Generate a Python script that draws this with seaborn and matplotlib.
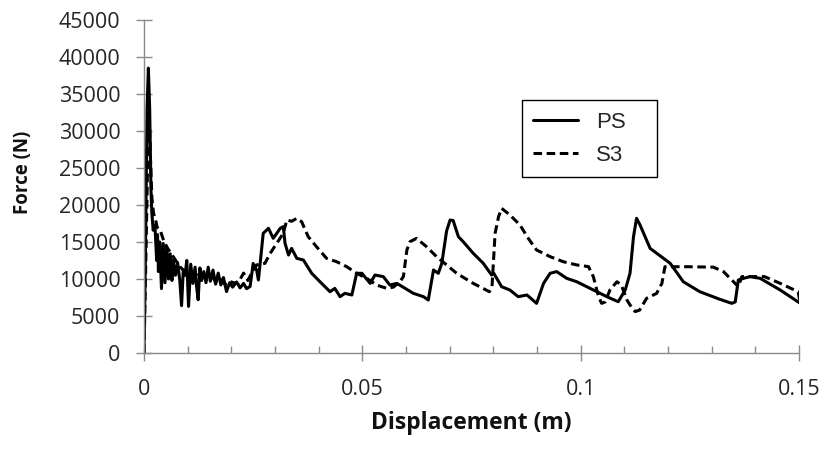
import matplotlib
matplotlib.use("Agg")
import matplotlib.pyplot as plt
import seaborn as sns
import pandas as pd

# Force-displacement curves
ps_x = [0.0, 0.0003, 0.0007, 0.0010, 0.0013, 0.0016, 0.0018, 0.0021, 0.0025, 0.0029,
        0.0031, 0.0033, 0.0036, 0.0040, 0.0044, 0.0048, 0.0052, 0.0056, 0.0060, 0.0064,
        0.0067, 0.0072, 0.0077, 0.0082, 0.0086, 0.0090, 0.0094, 0.0098, 0.0102, 0.0107,
        0.0112, 0.0117, 0.0120, 0.0124, 0.0128, 0.0132, 0.0137, 0.0142, 0.0147, 0.0152,
        0.0158, 0.0164, 0.0170, 0.0176, 0.0182, 0.0189, 0.0196, 0.0203, 0.0212, 0.0220,
        0.0228, 0.0235, 0.0243, 0.0250, 0.0258, 0.0262, 0.0266, 0.0273, 0.0285, 0.0296,
        0.0312, 0.0319, 0.0323, 0.0331, 0.0338, 0.0350, 0.0365, 0.0384, 0.0403, 0.0426,
        0.0437, 0.0449, 0.0460, 0.0476, 0.0487, 0.0499, 0.0518, 0.0529, 0.0548, 0.0563,
        0.0579, 0.0598, 0.0617, 0.0640, 0.0651, 0.0663, 0.0674, 0.0682, 0.0693, 0.0701,
        0.0708, 0.0720, 0.0731, 0.0754, 0.0777, 0.0788, 0.0796, 0.0801, 0.0819, 0.0838,
        0.0857, 0.0877, 0.0899, 0.0915, 0.0930, 0.0945, 0.0968, 0.0991, 0.1014, 0.1037,
        0.1060, 0.1086, 0.1102, 0.1113, 0.1121, 0.1128, 0.1136, 0.1159, 0.1205, 0.1235,
        0.1273, 0.1319, 0.1346, 0.1354, 0.1361, 0.1373, 0.1388, 0.1411, 0.1457, 0.1501]
ps_force = [0, 12000, 33000, 38500, 33000, 22000, 18900, 16600, 17300, 12500,
            16000, 11000, 15000, 8700, 14800, 9500, 14300, 10000, 13400, 9800,
            12600, 10500, 12200, 9800, 6400, 11200, 10500, 12500, 6300, 12000,
            9400, 11600, 9200, 7200, 11500, 9800, 11000, 9500, 11600, 9700,
            11200, 9300, 10800, 9200, 10200, 8300, 9500, 8900, 9600, 8800,
            9400, 8700, 9000, 12100, 11200, 9860, 12100, 16170, 16850, 15500,
            16850, 17070, 14820, 13240, 14140, 12790, 12570, 10770, 9630, 8280,
            8730, 7610, 8060, 7840, 10770, 10770, 9410, 10540, 10320, 9180,
            9410, 8730, 8060, 7610, 7160, 11220, 10770, 12120, 16500, 17970,
            17900, 15720, 15040, 13470, 12120, 11220, 10540, 10770, 8960, 8510,
            7610, 7840, 6710, 9410, 10770, 11000, 10090, 9630, 8960, 8280,
            7610, 6930, 8510, 10770, 15720, 18200, 17300, 14140, 12120, 9630,
            8280, 7250, 6710, 6900, 9860, 10090, 10320, 10090, 8510, 6790]

s3_x = [0.0, 0.0005, 0.0009, 0.0012, 0.0015, 0.0018, 0.0022, 0.0025, 0.0030, 0.0037,
        0.0045, 0.0052, 0.0060, 0.0067, 0.0075, 0.0082, 0.0092, 0.0105, 0.0115, 0.0125,
        0.0135, 0.0145, 0.0155, 0.0165, 0.0175, 0.0185, 0.0195, 0.0205, 0.0215, 0.0228,
        0.0238, 0.0248, 0.0258, 0.0277, 0.0289, 0.0304, 0.0319, 0.0327, 0.0338, 0.0350,
        0.0361, 0.0376, 0.0395, 0.0418, 0.0441, 0.0464, 0.0487, 0.0510, 0.0533, 0.0556,
        0.0571, 0.0586, 0.0594, 0.0602, 0.0609, 0.0624, 0.0647, 0.0670, 0.0693, 0.0716,
        0.0754, 0.0791, 0.0797, 0.0804, 0.0812, 0.0819, 0.0838, 0.0861, 0.0880, 0.0899,
        0.0930, 0.0960, 0.0991, 0.1018, 0.1029, 0.1041, 0.1048, 0.1056, 0.1067, 0.1083,
        0.1093, 0.1106, 0.1118, 0.1125, 0.1135, 0.1151, 0.1174, 0.1186, 0.1193, 0.1243,
        0.1304, 0.1327, 0.1350, 0.1361, 0.1369, 0.1421, 0.1457, 0.1498, 0.1502]
s3_force = [0, 15000, 28000, 32000, 26000, 21000, 18800, 18400, 17000, 16600,
            15200, 14360, 13600, 13010, 12300, 11660, 11100, 10770, 10900, 10300,
            10600, 10000, 10400, 9600, 10000, 9300, 9700, 9500, 9400, 10800,
            9800, 11000, 11900, 12120, 13470, 14820, 16170, 17970, 17800, 18200,
            17740, 15720, 14370, 12790, 12340, 11670, 10770, 10090, 9180, 8730,
            8900, 9630, 10320, 13920, 15040, 15490, 14370, 13020, 11900, 10770,
            9410, 8280, 9000, 16170, 18420, 19550, 18650, 17300, 15490, 13920,
            13020, 12340, 11900, 11670, 10320, 7610, 6710, 6900, 8510, 9630,
            9200, 7160, 6030, 5600, 5800, 7390, 8060, 9410, 11660, 11660,
            11600, 11000, 9630, 8960, 10320, 10320, 9410, 8280, 7000]

series_names = ["PS", "S3"]
y_ticks = list(range(0, 45001, 5000))
x_ticks = [0, 0.05, 0.1, 0.15]
x_tick_labels = ["0", "0.05", "0.1", "0.15"]
x_minor = [0.01 * i for i in range(16)]

df = pd.concat([
    pd.DataFrame({"disp": ps_x, "force": ps_force, "series": "PS"}),
    pd.DataFrame({"disp": s3_x, "force": s3_force, "series": "S3"}),
])

sns.set_style("white")
plt.rcParams["font.family"] = ["Open Sans", "DejaVu Sans"]

fig = plt.figure(figsize=(8.24, 4.57), dpi=100)
ax = fig.add_axes([144 / 824, 1 - 353 / 457, 655 / 824, 333 / 457])

sns.lineplot(data=df, x="disp", y="force", style="series", color="black",
             dashes={"PS": "", "S3": (2.8, 1.5)}, linewidth=2.2,
             estimator=None, sort=False, legend=False, ax=ax)

ax.set_xlim(0, 0.15)
ax.set_ylim(0, 45000)
ax.set_yticks(y_ticks)
ax.set_yticklabels([str(v) for v in y_ticks])
ax.set_xticks(x_ticks)
ax.set_xticklabels(x_tick_labels)
ax.set_xticks(x_minor, minor=True)

for s in ["top", "right"]:
    ax.spines[s].set_visible(False)
for s in ["left", "bottom"]:
    ax.spines[s].set_color("#8a8a8a")
    ax.spines[s].set_linewidth(1.0)

# the white style switches ticks off, turn them back on
ax.tick_params(which="both", bottom=True, left=True)
ax.tick_params(axis="both", which="major", direction="inout", length=12,
               width=1.0, color="#8a8a8a", labelsize=15.5, labelcolor="#262626")
ax.tick_params(axis="y", which="major", pad=11)
ax.tick_params(axis="x", which="major", pad=13)
ax.tick_params(axis="x", which="minor", direction="in", length=5,
               width=1.0, color="#8a8a8a")

ax.set_xlabel("")
ax.set_ylabel("")
fig.text(471 / 824, 1 - 423 / 457, "Displacement (m)", ha="center", va="center",
         fontsize=16.5, fontweight="bold", color="#111111")
fig.text(23 / 824, 1 - 172 / 457, "Force (N)", ha="center", va="center",
         rotation=90, fontsize=13.5, fontweight="bold", color="#111111")

leg = ax.legend(ax.lines[:2], series_names, loc="upper left",
                bbox_to_anchor=(522 / 824, 1 - 105 / 457, 135 / 824, 0.01),
                bbox_transform=fig.transFigure, mode="expand", borderaxespad=0,
                fancybox=False, framealpha=1, edgecolor="black",
                prop={"family": "Liberation Sans", "size": 16},
                handlelength=2.0, handletextpad=0.85, labelspacing=0.55,
                borderpad=0.5)
leg.get_frame().set_linewidth(1.0)

fig.savefig("out.png", dpi=100)
